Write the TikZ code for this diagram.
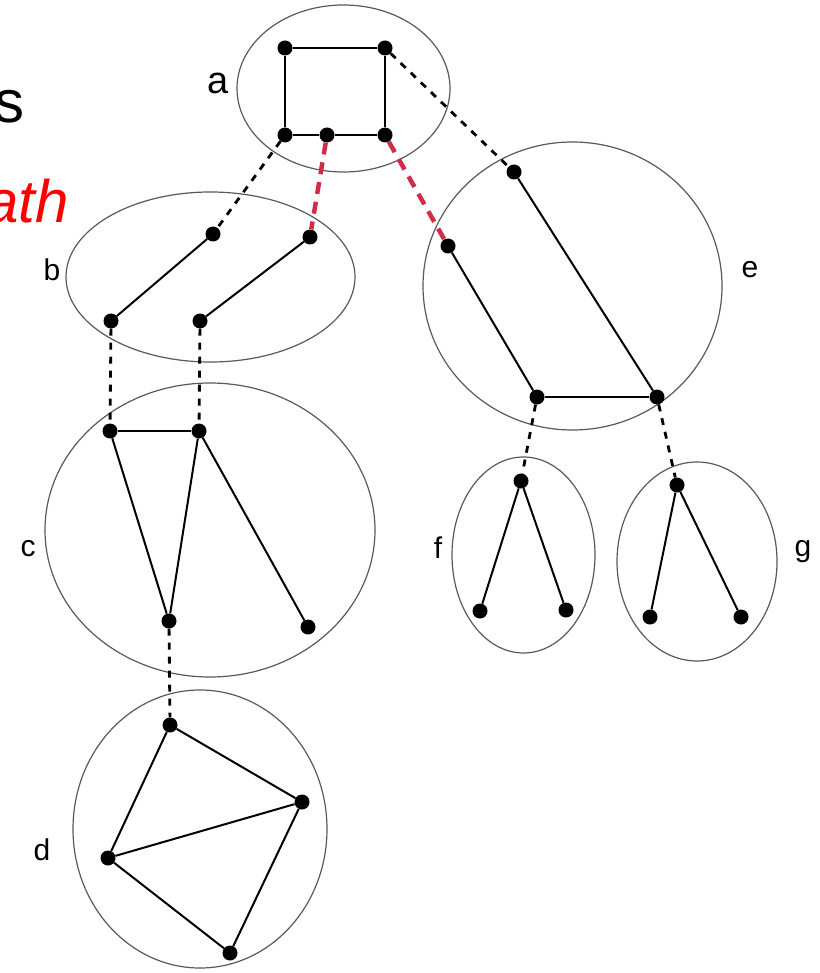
\documentclass[tikz,border=0pt]{standalone}
\usepackage{fontspec}
\setmainfont{Liberation Sans}
\definecolor{pathred}{RGB}{208,45,72}
\begin{document}
\begin{tikzpicture}[x=1pt,y=-1pt,
  vtx/.style={circle,fill=black,inner sep=0pt,minimum size=15pt},
  grp/.style={draw=black!65,line width=1.2pt},
  edge/.style={line width=2pt},
  link/.style={line width=2.8pt,dash pattern=on 7pt off 7pt},
  redlink/.style={line width=4.5pt,color=pathred,dash pattern=on 12pt off 8pt},
  lbl/.style={font=\fontsize{30}{36}\selectfont,inner sep=0pt}]
\useasboundingbox (0,0) rectangle (819,973);
% cut-off title text
\node[anchor=base east,inner sep=0pt,font=\fontsize{60}{72}\selectfont] (ts) at (25,123) {s};
\node[anchor=base east,inner sep=0pt,text=red,font=\fontsize{60}{72}\selectfont\itshape] (tp) at (69,223) {ath};
% groups
\draw[grp] (343.5,88.5) ellipse [x radius=106.5,y radius=83.5];
\draw[grp] (210.5,277) ellipse [x radius=144.5,y radius=85];
\draw[grp] (572.5,286) ellipse [x radius=149.5,y radius=144];
\draw[grp] (210,530) ellipse [x radius=165,y radius=147];
\draw[grp] (200,829) ellipse [x radius=127,y radius=139];
\draw[grp] (523.5,555) ellipse [x radius=71.5,y radius=98];
\draw[grp] (697,561.5) ellipse [x radius=80,y radius=99.5];
% labels
\node[lbl,font=\fontsize{38}{44}\selectfont] (la) at (218,83) {a};
\node[lbl] (lb) at (52,270) {b};
\node[lbl] (lc) at (28,549) {c};
\node[lbl] (ld) at (42,850) {d};
\node[lbl] (le) at (750,270) {e};
\node[lbl] (lf) at (438,548) {f};
\node[lbl] (lg) at (803,552) {g};
% vertices a
\node[vtx] (a1) at (285,48) {};
\node[vtx] (a2) at (385,48) {};
\node[vtx] (a3) at (285,135) {};
\node[vtx] (a4) at (327,135) {};
\node[vtx] (a5) at (385,135) {};
% b
\node[vtx] (b1) at (213,234) {};
\node[vtx] (b2) at (310,237) {};
\node[vtx] (b3) at (111,321) {};
\node[vtx] (b4) at (200,321) {};
% c
\node[vtx] (c1) at (110,431) {};
\node[vtx] (c2) at (199,431) {};
\node[vtx] (c3) at (169,621) {};
\node[vtx] (c4) at (308,627) {};
% d
\node[vtx] (d1) at (170,725) {};
\node[vtx] (d2) at (302,802) {};
\node[vtx] (d3) at (108,858) {};
\node[vtx] (d4) at (230,953) {};
% e
\node[vtx] (e1) at (514,172) {};
\node[vtx] (e2) at (448,246) {};
\node[vtx] (e3) at (537,397) {};
\node[vtx] (e4) at (657,397) {};
% f
\node[vtx] (f1) at (521,481) {};
\node[vtx] (f2) at (480,611) {};
\node[vtx] (f3) at (566,610) {};
% g
\node[vtx] (g1) at (677,485) {};
\node[vtx] (g2) at (650,617) {};
\node[vtx] (g3) at (741,617) {};
% solid edges
\draw[edge] (a1) -- (a2) -- (a5) -- (a4) -- (a3) -- (a1);
\draw[edge] (b1) -- (b3);
\draw[edge] (b2) -- (b4);
\draw[edge] (c1) -- (c2);
\draw[edge] (c1) -- (c3);
\draw[edge] (c3) -- (c2);
\draw[edge] (c2) -- (c4);
\draw[edge] (d1) -- (d2);
\draw[edge] (d1) -- (d3);
\draw[edge] (d3) -- (d2);
\draw[edge] (d3) -- (d4);
\draw[edge] (d4) -- (d2);
\draw[edge] (e1) -- (e4);
\draw[edge] (e2) -- (e3);
\draw[edge] (e3) -- (e4);
\draw[edge] (f1) -- (f2);
\draw[edge] (f1) -- (f3);
\draw[edge] (g1) -- (g2);
\draw[edge] (g1) -- (g3);
% dashed links
\draw[link] (a3) -- (b1);
\draw[link] (a2) -- (e1);
\draw[link] (b3) -- (c1);
\draw[link] (b4) -- (c2);
\draw[link] (c3) -- (d1);
\draw[link] (e3) -- (f1);
\draw[link] (e4) -- (g1);
\draw[redlink] (a4) -- (b2);
\draw[redlink] (a5) -- (e2);
\end{tikzpicture}
\end{document}
